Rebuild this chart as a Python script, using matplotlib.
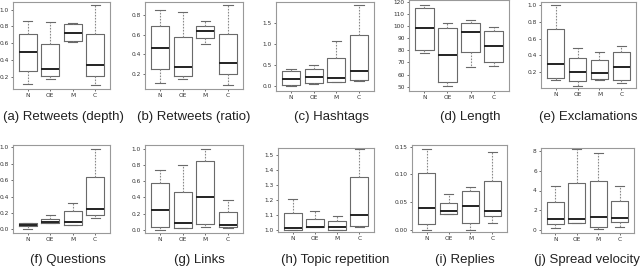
import matplotlib
matplotlib.use("Agg")
import matplotlib.pyplot as plt

groups = ["N", "OE", "M", "C"]

# per-panel box stats: [whislo, q1, med, q3, whishi] for N, OE, M, C
retweets_depth = [[0.109, 0.267, 0.492, 0.709, 0.858], [0.173, 0.209, 0.29, 0.59, 0.846],
                  [0.615, 0.622, 0.717, 0.823, 0.835], [0.098, 0.209, 0.335, 0.705, 1.055]]
retweets_ratio = [[0.114, 0.253, 0.462, 0.69, 0.85], [0.154, 0.187, 0.273, 0.58, 0.83],
                  [0.505, 0.565, 0.635, 0.69, 0.737], [0.09, 0.207, 0.316, 0.604, 0.895]]
hashtags = [[0.0, 0.03, 0.174, 0.347, 0.395], [0.055, 0.08, 0.22, 0.395, 0.505],
            [0.09, 0.095, 0.197, 0.67, 1.06], [0.12, 0.134, 0.347, 1.215, 1.92]]
length = [[77.4, 80.0, 98.0, 115.3, 117.5], [50.8, 53.6, 76.3, 98.8, 102.6],
          [66.3, 78.2, 94.9, 102.9, 104.8], [67.4, 70.4, 83.6, 96.0, 99.3]]
exclamations = [[0.104, 0.12, 0.29, 0.717, 1.0], [0.032, 0.088, 0.2, 0.367, 0.49],
                [0.104, 0.112, 0.187, 0.347, 0.442], [0.068, 0.1, 0.259, 0.442, 0.506]]
questions = [[0.004, 0.036, 0.057, 0.077, 0.073], [0.075, 0.077, 0.085, 0.12, 0.17],
             [0.055, 0.057, 0.093, 0.218, 0.32], [0.138, 0.174, 0.247, 0.632, 0.984]]
links = [[0.0, 0.03, 0.244, 0.58, 0.735], [0.016, 0.025, 0.083, 0.463, 0.793],
         [0.04, 0.07, 0.4, 0.847, 1.0], [0.025, 0.03, 0.058, 0.219, 0.368]]
topic_repetition = [[1.0, 1.004, 1.015, 1.117, 1.207], [1.02, 1.02, 1.024, 1.077, 1.13],
                    [1.0, 1.004, 1.024, 1.064, 1.092], [1.02, 1.026, 1.103, 1.354, 1.537]]
replies = [[0.0, 0.01, 0.04, 0.102, 0.146], [0.029, 0.029, 0.033, 0.049, 0.065],
           [0.0, 0.012, 0.043, 0.07, 0.077], [0.013, 0.024, 0.034, 0.088, 0.141]]
spread_velocity = [[0.17, 0.63, 1.1, 2.8, 4.47], [0.67, 0.67, 1.1, 4.73, 8.2],
                   [0.1, 0.3, 1.3, 4.93, 7.8], [0.27, 0.77, 1.2, 2.9, 4.5]]

captions = ["(a) Retweets (depth)", "(b) Retweets (ratio)", "(c) Hashtags", "(d) Length",
            "(e) Exclamations", "(f) Questions", "(g) Links", "(h) Topic repetition",
            "(i) Replies", "(j) Spread velocity"]
yticks = [[0.2, 0.4, 0.6, 0.8, 1.0], [0.2, 0.4, 0.6, 0.8], [0.0, 0.5, 1.0, 1.5],
          [50, 60, 70, 80, 90, 100, 110, 120], [0.2, 0.4, 0.6, 0.8, 1.0],
          [0.0, 0.2, 0.4, 0.6, 0.8, 1.0], [0.0, 0.2, 0.4, 0.6, 0.8, 1.0],
          [1.0, 1.1, 1.2, 1.3, 1.4, 1.5], [0.00, 0.05, 0.10, 0.15], [0, 2, 4, 6, 8]]
ytickfmt = ["%.1f", "%.1f", "%.1f", "%d", "%.1f", "%.1f", "%.1f", "%.1f", "%.2f", "%d"]

panels = [retweets_depth, retweets_ratio, hashtags, length, exclamations,
          questions, links, topic_repetition, replies, spread_velocity]

# layout (pixels): left, right, top, bottom
rects = [(13, 110, 2, 89), (145, 243, 2, 89), (276, 374, 2, 91), (409, 509, 0, 91),
         (541, 636, 2, 88), (13, 110, 145, 233), (145, 243, 145, 233), (278, 374, 148, 232),
         (412, 507, 145, 232), (541, 634, 148, 233)]
ylims = [(0.054, 1.09), (0.054, 0.926), (-0.118, 1.99), (46.4, 121.5), (0.005, 1.04),
         (-0.045, 1.028), (-0.04, 1.045), (0.989, 1.545), (-0.004, 0.153), (-0.3, 8.3)]
cap_x = [63, 194, 331, 470, 588, 68, 199, 335, 465, 587]
cap_y = [117, 117, 117, 117, 117, 260, 260, 260, 260, 260]

W, H = 640, 269
fig = plt.figure(figsize=(6.4, 2.69), dpi=100)
fig.patch.set_facecolor("white")

gray = "#6a6a6a"
for i, data in enumerate(panels):
    l, r, t, b = rects[i]
    ax = fig.add_axes([l / W, 1 - b / H, (r - l) / W, (b - t) / H])
    stats = []
    for g, s in zip(groups, data):
        stats.append(dict(label=g, whislo=s[0], q1=s[1], med=s[2], q3=s[3], whishi=s[4], fliers=[]))
    ax.bxp(stats, positions=[1, 2, 3, 4], widths=0.8, capwidths=0.4, showfliers=False,
           boxprops=dict(color=gray, linewidth=0.8),
           medianprops=dict(color="#222222", linewidth=1.4),
           whiskerprops=dict(color="#8a8a8a", linewidth=0.8, linestyle=(0, (1.5, 1.2))),
           capprops=dict(color=gray, linewidth=0.8))
    ax.set_xlim(0.34, 4.66)
    ax.set_ylim(*ylims[i])
    ax.set_yticks(yticks[i])
    ax.set_yticklabels([ytickfmt[i] % v for v in yticks[i]])
    ax.set_xticks([1, 2, 3, 4])
    ax.set_xticklabels(groups)
    ax.tick_params(axis="both", labelsize=4.2, length=1.5, width=0.5, pad=1.5,
                   colors="#333333")
    for sp in ax.spines.values():
        sp.set_color("#999999")
        sp.set_linewidth(0.8)
    fig.text(cap_x[i] / W, 1 - cap_y[i] / H, captions[i], ha="center", va="center",
             fontsize=9.5, family=["Liberation Sans", "DejaVu Sans"], color="#222222")

fig.savefig("out.png", dpi=100, facecolor="white")
